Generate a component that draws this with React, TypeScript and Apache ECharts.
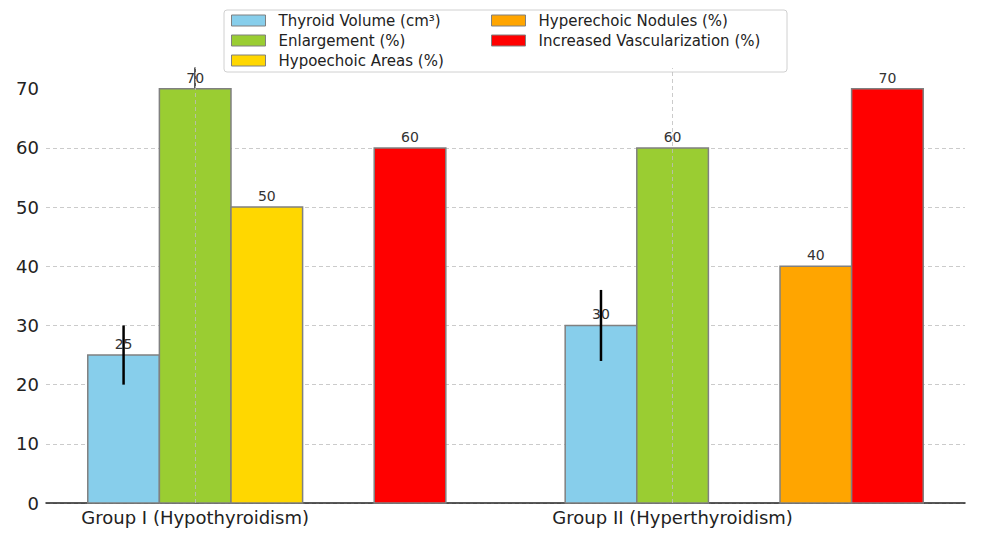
import React, { useEffect, useRef } from "react";
import * as echarts from "echarts";

const groups = ["Group I (Hypothyroidism)", "Group II (Hyperthyroidism)"];
const seriesNames = [
  "Thyroid Volume (cm³)",
  "Enlargement (%)",
  "Hypoechoic Areas (%)",
  "Hyperechoic Nodules (%)",
  "Increased Vascularization (%)",
];
const thyroidVolume = [25, 30];
const thyroidVolumeErr = [5, 6];
const enlargement = [70, 60];
const hypoechoic = [50, null];
const hyperechoic = [null, 40];
const vascularization = [60, 70];
const yTicks = [0, 10, 20, 30, 40, 50, 60, 70];

const colors = ["#87CEEB", "#9ACD32", "#FFD700", "#FFA500", "#FF0000"];
const BAR_W = 0.15;
const FONT = "DejaVu Sans";

export default function App() {
  const ref = useRef<HTMLDivElement>(null);
  useEffect(() => {
    if (!ref.current) return;
    const chart = echarts.init(ref.current, null, { renderer: "svg" });
    const values: (number | null)[][] = [thyroidVolume, enlargement, hypoechoic, hyperechoic, vascularization];

    const renderItem = (params: any, api: any) => {
      const x = api.value(0);
      const y = api.value(1);
      const err = api.value(2);
      const tl = api.coord([x - BAR_W / 2, y]);
      const br = api.coord([x + BAR_W / 2, 0]);
      const top = api.coord([x, y]);
      const children: any[] = [
        {
          type: "rect",
          shape: { x: tl[0], y: tl[1], width: br[0] - tl[0], height: br[1] - tl[1] },
          style: { fill: api.visual("color"), stroke: "#808080", lineWidth: 1.5 },
        },
        {
          type: "text",
          x: top[0],
          y: top[1] - 4,
          style: {
            text: String(y),
            fill: "#333",
            fontSize: 14,
            fontFamily: FONT,
            align: "center",
            verticalAlign: "bottom",
          },
        },
      ];
      if (typeof err === "number" && isFinite(err) && err > 0) {
        const lo = api.coord([x, y - err]);
        const hi = api.coord([x, y + err]);
        children.push({
          type: "line",
          shape: { x1: lo[0], y1: lo[1], x2: hi[0], y2: hi[1] },
          style: { stroke: "#000", lineWidth: 2.5 },
        });
      }
      return { type: "group", children };
    };

    const series: any[] = seriesNames.map((name, si) => {
      const data: any[] = [];
      values[si].forEach((v, gi) => {
        if (v === null || v === undefined) return;
        const xPos = gi + (si - 1) * BAR_W;
        if (si === 0) data.push([xPos, v, thyroidVolumeErr[gi]]);
        else data.push([xPos, v]);
      });
      const s: any = {
        type: "custom",
        name,
        renderItem,
        itemStyle: { color: colors[si] },
        encode: { x: 0, y: 1 },
        data,
      };
      if (si === seriesNames.length - 1) {
        s.markLine = {
          silent: true,
          symbol: "none",
          label: { show: false },
          lineStyle: { type: [4, 3], color: "rgba(190,190,190,0.8)", width: 1 },
          data: groups.map((_, gi) => ({ xAxis: gi })),
        };
      }
      return s;
    });

    const legendBase = {
      orient: "vertical",
      top: 12,
      padding: 0,
      itemWidth: 34,
      itemHeight: 11,
      itemGap: 3,
      icon: "rect",
      z: 5,
      itemStyle: { borderColor: "#808080", borderWidth: 1 },
      textStyle: { fontSize: 15, color: "#222", lineHeight: 17, padding: [0, 0, 0, 8], fontFamily: FONT },
    };

    chart.setOption({
      animation: false,
      textStyle: { fontFamily: FONT },
      grid: { left: 46, right: 17, top: 68, bottom: 33, containLabel: false },
      graphic: [
        {
          type: "rect",
          z: 3,
          shape: { x: 224, y: 10, width: 563, height: 62, r: 3 },
          style: { fill: "#fff", stroke: "#d0d0d0", lineWidth: 1 },
        },
      ],
      legend: [
        { ...legendBase, left: 231, data: seriesNames.slice(0, 3) },
        { ...legendBase, left: 491, data: seriesNames.slice(3) },
      ],
      xAxis: {
        type: "value",
        min: -0.3125,
        max: 1.6125,
        axisLine: { show: true, onZero: false, lineStyle: { color: "#222", width: 1.5 } },
        axisTick: { show: true, inside: true, length: 4, customValues: [0, 1], lineStyle: { color: "#222" } },
        axisLabel: {
          show: true,
          customValues: [0, 1],
          formatter: (v: number) => groups[Math.round(v)] ?? "",
          fontSize: 18,
          color: "#222",
          margin: 5,
          fontFamily: FONT,
        },
        splitLine: { show: false },
      },
      yAxis: {
        type: "value",
        min: 0,
        max: 73.5,
        axisLine: { show: true, lineStyle: { color: "#222", width: 1.5 } },
        axisTick: { show: true, inside: true, length: 4, customValues: yTicks, lineStyle: { color: "#222" } },
        axisLabel: { show: true, customValues: yTicks, fontSize: 18, color: "#222", margin: 7, fontFamily: FONT },
        splitLine: { show: true, showMaxLine: false, lineStyle: { type: [4, 3], color: "rgba(190,190,190,0.8)", width: 1 } },
      },
      series,
    });
    return () => chart.dispose();
  }, []);
  return <div ref={ref} style={{ width: 982, height: 536, position: "absolute", left: 0, top: 0 }} />;
}
